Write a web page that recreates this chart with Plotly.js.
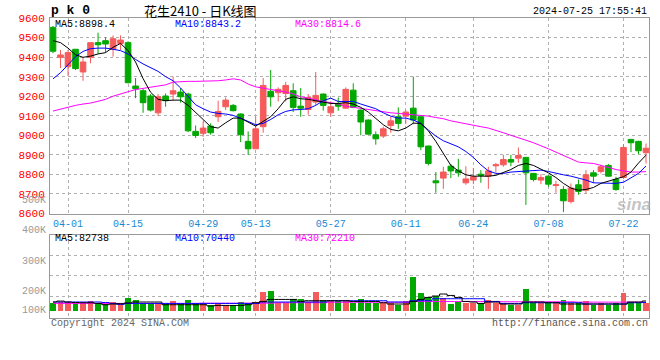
<!DOCTYPE html>
<html><head><meta charset="utf-8">
<script src="https://cdn.plot.ly/plotly-3.0.1.min.js"></script>
<style>body{margin:0;background:#fff}#c{width:660px;height:360px}</style>
</head><body><div id="c"></div>
<script>
const dates = ["03-28","03-29","04-01","04-02","04-03","04-08","04-09","04-10","04-11","04-12",
"04-15","04-16","04-17","04-18","04-19","04-22","04-23","04-24","04-25","04-26",
"04-29","04-30","05-06","05-07","05-08","05-09","05-10","05-13","05-14","05-15",
"05-16","05-17","05-20","05-21","05-22","05-23","05-24","05-27","05-28","05-29",
"05-30","05-31","06-03","06-04","06-05","06-06","06-07","06-11","06-12","06-13",
"06-14","06-17","06-18","06-19","06-20","06-21","06-24","06-25","06-26","06-27",
"06-28","07-01","07-02","07-03","07-04","07-05","07-08","07-09","07-10","07-11",
"07-12","07-15","07-16","07-17","07-18","07-19","07-22","07-23","07-24","07-25"];
const tickDates = ["04-01","04-15","04-29","05-13","05-27","06-11","06-24","07-08","07-22"];
const priceTicks = [8600,8700,8800,8900,9000,9100,9200,9300,9400,9500,9600];

const open = [9552,9399,9351,9440,9324,9399,9474,9484,9440,9470,
9474,9252,9228,9201,9115,9201,9211,9221,9211,9020,
9010,9047,9095,9146,9153,9109,8969,8931,9044,9225,
9218,9214,9228,9149,9132,9170,9211,9115,9163,9139,
9231,9129,9078,9003,8996,9050,9095,9098,9139,9095,
8945,8767,8781,8842,8822,8757,8771,8801,8791,8844,
8849,8876,8883,8887,8805,8771,8791,8743,8723,8661,
8747,8719,8808,8815,8846,8774,8784,8979,8969,8911];
const high = [9560,9436,9436,9440,9399,9474,9525,9501,9511,9511,
9481,9293,9238,9211,9211,9214,9300,9242,9218,9050,
9071,9061,9177,9194,9160,9112,9020,9095,9293,9334,
9245,9272,9266,9242,9211,9324,9214,9173,9194,9245,
9266,9132,9081,9020,9044,9095,9143,9129,9300,9098,
8948,8812,8839,8853,8880,8842,8832,8822,8839,8859,
8900,8900,8938,8890,8808,8801,8795,8767,8740,8754,
8774,8822,8822,8849,8853,8788,8955,8982,8972,8958];
const low = [9420,9344,9303,9334,9279,9368,9416,9423,9402,9436,
9266,9190,9115,9122,9098,9146,9177,9167,9016,8986,
8992,9003,9068,9129,9122,8965,8900,8931,9013,9146,
9173,9173,9119,9095,9105,9153,9126,9095,9126,9136,
9139,9000,9003,8952,8986,9013,9033,9057,9057,8924,
8846,8706,8726,8781,8788,8747,8750,8757,8726,8808,
8839,8842,8859,8644,8764,8750,8737,8706,8607,8651,
8696,8702,8757,8805,8788,8716,8777,8914,8904,8856];
const close = [9430,9411,9423,9341,9375,9474,9463,9467,9494,9487,
9269,9238,9167,9129,9197,9177,9228,9197,9023,8999,
9037,9013,9122,9180,9126,9003,8931,9033,9255,9197,
9235,9255,9143,9139,9194,9204,9153,9146,9149,9235,
9143,9068,9006,8982,9033,9074,9061,9119,9078,8941,
8856,8757,8812,8818,8808,8777,8788,8795,8818,8849,
8876,8863,8897,8808,8774,8784,8750,8747,8665,8730,
8713,8798,8791,8839,8791,8723,8938,8962,8921,8934];

const ma5 = [9484,9474,9446,9412,9399,9405,9416,9423,9450,9470,
9433,9375,9290,9220,9184,9177,9180,9180,9153,9119,
9081,9044,9037,9064,9088,9088,9068,9047,9071,9095,
9136,9184,9197,9187,9184,9177,9167,9163,9163,9167,
9160,9143,9119,9088,9054,9030,9023,9037,9062,9061,
9023,8969,8904,8846,8818,8798,8791,8791,8791,8795,
8808,8825,8846,8856,8846,8829,8808,8784,8754,8730,
8719,8723,8733,8754,8767,8777,8788,8812,8858,8898.4];
const ma10 = [9289,9320,9361,9402,9429,9443,9446,9446,9440,9433,
9416,9388,9365,9344,9327,9300,9279,9242,9197,9156,
9136,9119,9112,9109,9102,9088,9071,9054,9061,9081,
9105,9122,9130,9132,9136,9153,9177,9190,9173,9173,
9173,9160,9149,9136,9115,9098,9088,9088,9078,9061,
9027,8996,8972,8958,8941,8917,8887,8849,8818,8805,
8805,8812,8815,8818,8822,8822,8815,8805,8798,8791,
8781,8771,8757,8757,8757,8754,8760,8781,8805,8843.2];
const ma30 = [9124,9134,9146,9153,9160,9165,9174,9184,9200,9212,
9224,9234,9240,9246,9252,9258,9272,9275,9276,9276,
9276,9279,9279,9283,9289,9283,9262,9248,9242,9235,
9228,9221,9212,9197,9190,9180,9173,9167,9160,9149,
9143,9139,9132,9126,9119,9115,9112,9109,9105,9102,
9098,9091,9085,9074,9066,9057,9051,9044,9037,9023,
9013,9000,8989,8975,8962,8948,8931,8914,8897,8880,
8863,8859,8856,8846,8835,8825,8818,8812,8812,8814.6];

const volume = [62000,74000,74000,62000,62000,85000,62000,57000,74000,62000,
108000,91000,68000,62000,62000,57000,85000,57000,91000,62000,
62000,45000,62000,51000,45000,74000,62000,74000,159000,170000,
62000,62000,96000,96000,74000,159000,91000,85000,85000,85000,
68000,102000,68000,68000,68000,68000,51000,79000,284000,153000,
113000,125000,108000,57000,74000,68000,62000,62000,91000,68000,
62000,51000,51000,187000,68000,68000,68000,62000,91000,68000,
68000,79000,51000,62000,51000,62000,153000,74000,68000,68000];
const vma5 = [74000,82000,74000,70000,68000,68000,62000,51000,57000,60000,
66000,74000,74000,74000,74000,51000,51000,51000,51000,51000,
51000,40000,45000,45000,45000,45000,51000,68000,79000,96000,
96000,96000,96000,79000,85000,85000,85000,85000,85000,85000,
79000,79000,79000,79000,68000,57000,57000,57000,79000,96000,
113000,125000,142000,130000,113000,79000,74000,62000,74000,74000,
57000,57000,57000,74000,74000,74000,68000,68000,57000,57000,
57000,57000,57000,57000,57000,57000,57000,74000,74000,82738];
const vma10 = [74000,74000,74000,74000,74000,74000,74000,70000,62000,54000,
62000,62000,62000,62000,62000,62000,62000,62000,62000,62000,
62000,62000,62000,62000,62000,62000,62000,62000,74000,74000,
74000,74000,74000,74000,74000,74000,74000,85000,85000,85000,
85000,85000,85000,85000,85000,74000,74000,74000,85000,85000,
85000,102000,102000,102000,102000,102000,102000,102000,79000,79000,
62000,62000,62000,68000,68000,68000,68000,68000,68000,68000,
68000,57000,57000,57000,57000,57000,57000,68000,68000,70440];
const vma30 = [62000,62000,62000,62000,62000,62000,62000,62000,62000,62000,
62000,62000,62000,62000,62000,62000,62000,62000,62000,62000,
64000,64000,64000,64000,64000,64000,64000,64000,64000,64000,
68000,68000,68000,68000,68000,68000,68000,72000,72000,72000,
72000,72000,72000,72000,72000,72000,72000,72000,78000,78000,
78000,78000,78000,78000,78000,78000,78000,78000,76000,76000,
76000,76000,76000,76000,76000,76000,76000,76000,76000,76000,
73000,73000,73000,73000,73000,73000,73000,73000,73000,72210];

const volTickText = ["500K","400K","300K","200K","100K"];

const RED = '#f55b5b', GREEN = '#00a800';
const MONO = 'Liberation Mono, DejaVu Sans Mono, monospace';
const last = a => a[a.length-1];

const traces = [
  {type:'candlestick', x:dates, open:open, high:high, low:low, close:close,
   xaxis:'x', yaxis:'y', whiskerwidth:0, hoverinfo:'skip',
   increasing:{line:{color:RED,width:1}, fillcolor:RED},
   decreasing:{line:{color:GREEN,width:1}, fillcolor:GREEN}},
  {type:'scatter', mode:'lines', x:dates, y:ma30, xaxis:'x', yaxis:'y', line:{color:'#ff00ff',width:1}, hoverinfo:'skip'},
  {type:'scatter', mode:'lines', x:dates, y:ma10, xaxis:'x', yaxis:'y', line:{color:'#0000ff',width:1}, hoverinfo:'skip'},
  {type:'scatter', mode:'lines', x:dates, y:ma5, xaxis:'x', yaxis:'y', line:{color:'#000000',width:1}, hoverinfo:'skip'},
  {type:'bar', x:dates, y:volume, xaxis:'x2', yaxis:'y2', width:0.78,
   marker:{color:close.map((c,i)=> c>=open[i] ? RED : GREEN), line:{width:0}}, hoverinfo:'skip'},
  {type:'scatter', mode:'lines', x:dates, y:vma30, xaxis:'x2', yaxis:'y2', line:{color:'#ff00ff',width:1,shape:'hvh'}, hoverinfo:'skip'},
  {type:'scatter', mode:'lines', x:dates, y:vma10, xaxis:'x2', yaxis:'y2', line:{color:'#0000ff',width:1,shape:'hvh'}, hoverinfo:'skip'},
  {type:'scatter', mode:'lines', x:dates, y:vma5, xaxis:'x2', yaxis:'y2', line:{color:'#000000',width:1,shape:'hvh'}, hoverinfo:'skip'}
];

// pixel helpers for text placement (plot area: x 50..649, y 18..318)
const px = x => (x-50)/599, py = y => (318-y)/300;
function txt(text, x, y, color, size, anchor, family){
  return {text:text, xref:'paper', yref:'paper', x:px(x), y:py(y), showarrow:false,
    xanchor:anchor||'left', yanchor:'middle', font:{family:family||MONO, size:size||10, color:color||'#000'}};
}
const volLabelY = [200, 230.7, 261, 291, 310];
const annotations = [
  txt('<b>p k 0</b>', 49, 10.5, '#000', 13, 'left'),
  txt('花生2410 - 日K线图', 200, 10, '#000', 13, 'center', 'Noto Sans CJK SC'),
  txt('2024-07-25 17:55:41', 649, 11.5, '#000', 10, 'right'),
  txt('MA5:'+last(ma5).toFixed(1), 53, 24, '#000'),
  txt('MA10:'+last(ma10).toFixed(1), 173, 24, '#0000ff'),
  txt('MA30:'+last(ma30).toFixed(1), 293, 24, '#ff00ff'),
  txt('MA5:'+last(vma5), 53, 238.5, '#000'),
  txt('MA10:'+last(vma10), 173, 238.5, '#0000ff'),
  txt('MA30:'+last(vma30), 293, 238.5, '#ff00ff'),
  txt('Copyright 2024 SINA.COM', 49, 323.5, '#666'),
  txt('http://finance.sina.com.cn', 650, 323.5, '#555', 10, 'right'),
  txt('<b><i>sina</i></b>', 634, 204, 'rgba(170,170,170,0.7)', 17, 'center', 'Liberation Sans')
].concat(volTickText.map((t,i)=> txt(t, 48, volLabelY[i], '#999', 10, 'right')));

const gridStyle = {showgrid:true, gridcolor:'#b0b0b0', griddash:'dot', gridwidth:1,
  showline:true, mirror:true, linecolor:'#999', linewidth:1, zeroline:false, ticks:'', fixedrange:true};

const layout = {
  width:660, height:360, margin:{l:50, r:11, t:18, b:42},
  paper_bgcolor:'#fff', plot_bgcolor:'#fff', showlegend:false, dragmode:false,
  bargap:0, boxgap:0.25, boxgroupgap:0,
  xaxis: Object.assign({}, gridStyle, {type:'category', range:[-0.4,79.4], anchor:'y',
    tickvals:tickDates, ticktext:tickDates, tickangle:0,
    tickfont:{family:MONO, size:10, color:'#1a8ad4'}, rangeslider:{visible:false}}),
  xaxis2: Object.assign({}, gridStyle, {type:'category', matches:'x', anchor:'y2',
    tickvals:tickDates, showticklabels:false}),
  yaxis: Object.assign({}, gridStyle, {domain:[0.3483,1], range:[8600,9600], tickvals:priceTicks,
    tickfont:{family:MONO, size:11, color:'#ff0000'}, ticklabelstandoff:2}),
  yaxis2: Object.assign({}, gridStyle, {domain:[0,0.2777], range:[-62000,647000],
    tickvals:[125000,301000,474000], showticklabels:false}),
  annotations: annotations
};
Plotly.newPlot('c', traces, layout, {staticPlot:true, displayModeBar:false});
</script></body></html>
